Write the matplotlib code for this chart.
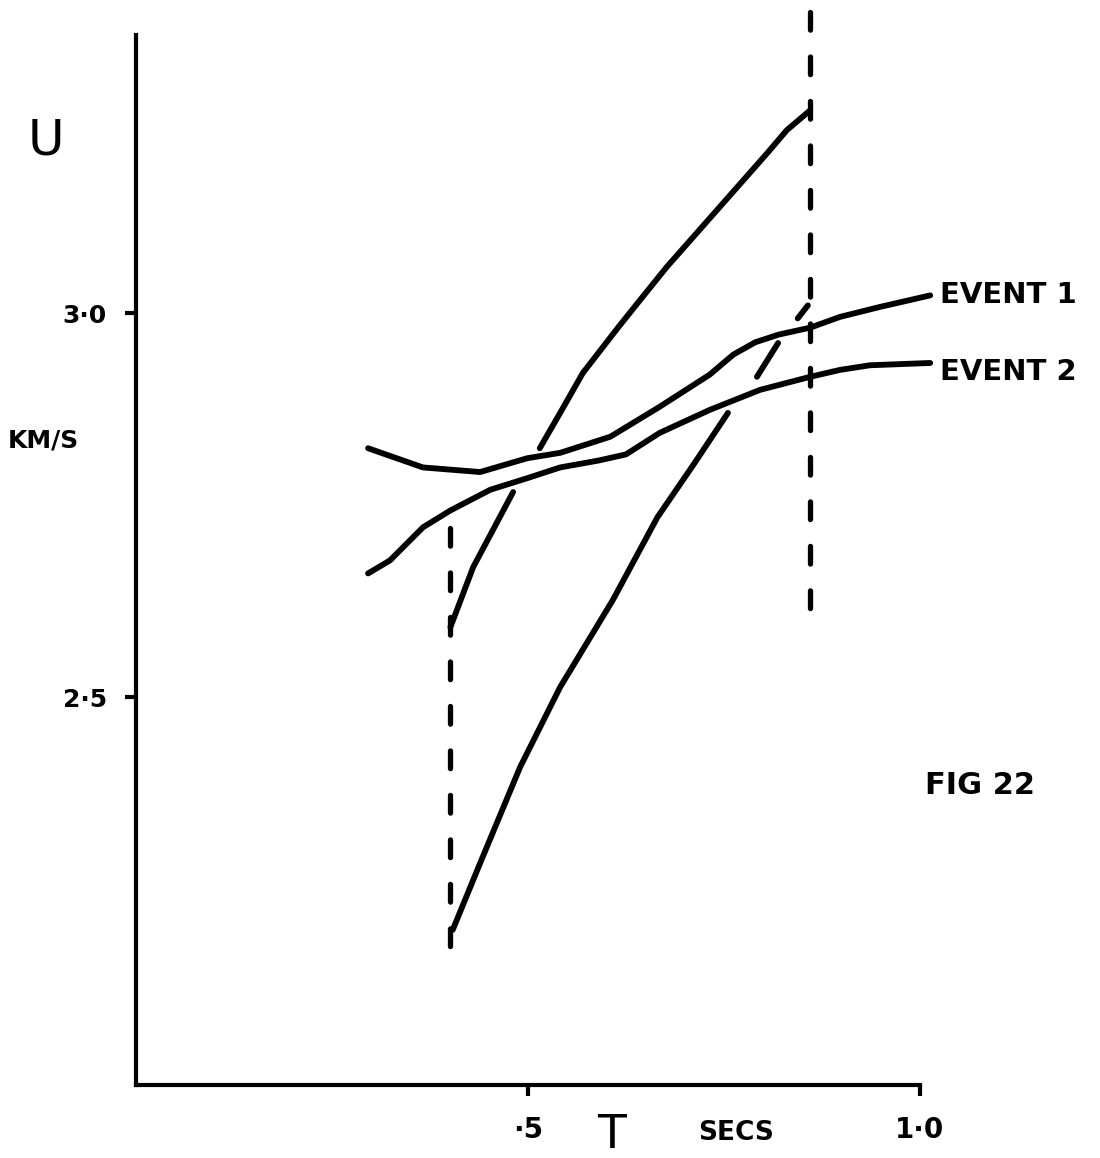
import numpy as np
import matplotlib.pyplot as plt

plt.rcParams['font.family'] = ['DejaVu Sans']

# group velocity U (km/s) against period T (s)
event1_t = [0.296, 0.366, 0.439, 0.499, 0.541, 0.605, 0.668, 0.732, 0.762, 0.790, 0.820, 0.860, 0.898, 0.949, 1.013]
event1_u = [2.824, 2.799, 2.793, 2.811, 2.818, 2.839, 2.878, 2.920, 2.946, 2.962, 2.972, 2.981, 2.995, 3.008, 3.023]

event2_t = [0.296, 0.324, 0.366, 0.401, 0.452, 0.499, 0.541, 0.590, 0.625, 0.668, 0.732, 0.796, 0.860, 0.898, 0.936, 1.013]
event2_u = [2.661, 2.678, 2.721, 2.743, 2.770, 2.785, 2.799, 2.808, 2.816, 2.844, 2.874, 2.900, 2.917, 2.926, 2.932, 2.935]

# bounding curves, broken where they cross the event curves
upper_t = [0.401, 0.430, 0.481, np.nan, 0.515, 0.541, 0.570, 0.614, 0.643, 0.677, 0.741, 0.805, 0.830, 0.860]
upper_u = [2.591, 2.669, 2.767, np.nan, 2.824, 2.870, 2.922, 2.980, 3.017, 3.060, 3.134, 3.208, 3.238, 3.264]

lower_t = [0.404, 0.439, 0.490, 0.541, 0.608, 0.665, 0.712, 0.755, np.nan, 0.792, 0.819, np.nan, 0.844, 0.857]
lower_u = [2.197, 2.284, 2.409, 2.513, 2.626, 2.734, 2.804, 2.870, np.nan, 2.917, 2.961, np.nan, 2.993, 3.010]

# vertical dashed cut-off lines
cut_t = [0.40, 0.86]
cut_lo = [2.161, 2.605]
cut_hi = [2.720, 3.392]

yticks = [2.5, 3.0]
ylabels = ['2·5', '3·0']
xticks = [0.5, 1.0]
xlabels = ['·5', '1·0']

fig = plt.figure(figsize=(11, 11.58), dpi=100)
ax = fig.add_axes([136 / 1100, 73 / 1158, 964 / 1100, 1085 / 1158])
ax.set_xlim(0, 964 / 784)
ax.set_ylim(1.995, 3.0 + 313 / 768)

lw = 4.2
for t, u in [(event1_t, event1_u), (event2_t, event2_u), (upper_t, upper_u), (lower_t, lower_u)]:
    ax.plot(t, u, color='black', lw=lw, solid_capstyle='round', solid_joinstyle='round')

for t, lo, hi in zip(cut_t, cut_lo, cut_hi):
    ax.plot([t, t], [hi, lo], color='black', lw=3.8,
            linestyle=(0, (3.35, 5.08)), dash_capstyle='round')

# axes look like hand drawn lines
for side in ['top', 'right']:
    ax.spines[side].set_visible(False)
ax.spines['left'].set_linewidth(3)
ax.spines['bottom'].set_linewidth(3)
ax.spines['left'].set_bounds(1.995, 3.362)
ax.spines['bottom'].set_bounds(0, 1.0)

ax.set_yticks(yticks, labels=ylabels)
ax.set_xticks(xticks, labels=xlabels)
ax.tick_params(axis='y', direction='out', length=8, width=3, pad=13,
               labelsize=18)
ax.tick_params(axis='x', direction='out', length=8, width=3, pad=14,
               labelsize=20)
for lab in ax.get_yticklabels() + ax.get_xticklabels():
    lab.set_fontweight('bold')

ax.text(1.0255, 3.023, 'EVENT 1', fontsize=21, fontweight='bold', va='center', ha='left')
ax.text(1.0255, 2.923, 'EVENT 2', fontsize=21, fontweight='bold', va='center', ha='left')
ax.text(1.006, 2.385, 'FIG 22', fontsize=22, fontweight='bold', va='center', ha='left')

fig.text(46 / 1100, 1 - 140 / 1158, 'U', fontsize=36, ha='center', va='center')
fig.text(8 / 1100, 1 - 440 / 1158, 'KM/S', fontsize=18, fontweight='bold', ha='left', va='center')
fig.text(612 / 1100, 1 - 1135 / 1158, 'T', fontsize=34, ha='center', va='center')
fig.text(698 / 1100, 1 - 1133 / 1158, 'SECS', fontsize=19, fontweight='bold', ha='left', va='center')

fig.savefig('out.png', dpi=100, facecolor='white')
